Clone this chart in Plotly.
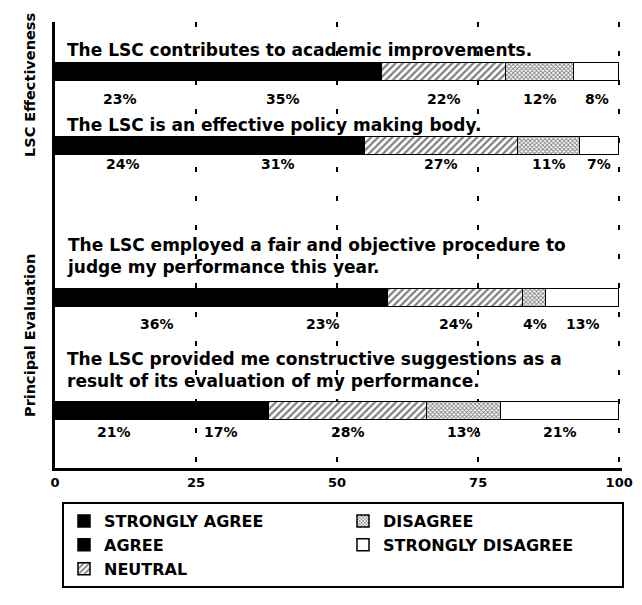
import plotly.graph_objects as go

# ---------------------------
# data
# ---------------------------
questions = [
    "The LSC contributes to academic improvements.",
    "The LSC is an effective policy making body.",
    "The LSC employed a fair and objective procedure to<br>judge my performance this year.",
    "The LSC provided me constructive suggestions as a<br>result of its evaluation of my performance.",
]
groups = ["LSC Effectiveness", "Principal Evaluation"]

strongly_agree = [23, 24, 36, 21]
agree = [35, 31, 23, 17]
neutral = [22, 27, 24, 28]
disagree = [12, 11, 4, 13]
strongly_disagree = [8, 7, 13, 21]

x_ticks = [0, 25, 50, 75, 100]

# layout helpers (y axis measured top-down, in px below the plot top)
row_y = [50, 124, 276, 389]
title_off = [22, 21, 42, 41]
pct_off = [27, 18, 26, 21]
group_y = [63, 314]
bar_w = 18
FONT = "DejaVu Sans"

series = [
    ("STRONGLY AGREE", strongly_agree, dict(color="black"), 1),
    ("AGREE", agree, dict(color="black"), 3),
    ("NEUTRAL", neutral, dict(color="white", pattern=dict(shape="/", fgcolor="black", bgcolor="white", size=5, solidity=0.45)), 5),
    ("DISAGREE", disagree, dict(color="white", pattern=dict(shape="x", fgcolor="black", bgcolor="white", size=3, solidity=0.5)), 2),
    ("STRONGLY DISAGREE", strongly_disagree, dict(color="white"), 4),
]

fig = go.Figure()

for name, vals, mk, rank in series:
    fig.add_trace(go.Bar(
        x=vals,
        y=row_y,
        orientation="h",
        name=name,
        width=bar_w,
        legendrank=rank,
        marker=dict(line=dict(color="black", width=1.5), **mk),
        hoverinfo="x+name",
    ))

annotations = []

# question titles above bars
for q, y, off in zip(questions, row_y, title_off):
    annotations.append(dict(
        x=1.7, y=y - off, xref="x", yref="y",
        text=q, showarrow=False, xanchor="left", yanchor="middle", align="left",
        font=dict(family=FONT, size=17, color="black", weight="bold"),
    ))

# percent labels under each segment
for i, y in enumerate(row_y):
    start = 0
    for _, vals, _, _ in series:
        v = vals[i]
        annotations.append(dict(
            x=start + v / 2, y=y + pct_off[i], xref="x", yref="y",
            text=f"{v}%", showarrow=False, xanchor="center", yanchor="middle",
            font=dict(family=FONT, size=14, color="black", weight="bold"),
        ))
        start += v

# group labels on the left
for g, y in zip(groups, group_y):
    annotations.append(dict(
        x=0, y=y, xref="paper", yref="y", xshift=-35,
        text=g, showarrow=False, textangle=-90,
        font=dict(family=FONT, size=14.5, color="black", weight="bold"),
    ))

fig.update_layout(
    width=625, height=589,
    margin=dict(l=47, r=11, t=14, b=129),
    plot_bgcolor="white",
    paper_bgcolor="white",
    barmode="stack",
    bargap=0,
    annotations=annotations,
    font=dict(family=FONT, color="black"),
    xaxis=dict(
        range=[0, 100.5],
        tickvals=x_ticks,
        ticks="",
        automargin=False,
        showline=True, linecolor="black", linewidth=3,
        showgrid=True, gridcolor="black", gridwidth=2, griddash="5px,24px",
        zeroline=False,
        tickfont=dict(family=FONT, size=13, color="black", weight="bold"),
    ),
    yaxis=dict(
        range=[446, 0],
        automargin=False,
        showticklabels=False, ticks="",
        showgrid=False, zeroline=False,
        showline=True, linecolor="black", linewidth=3,
    ),
    legend=dict(
        orientation="h",
        xref="container", yref="container",
        x=0.0864, xanchor="left",
        y=0.161, yanchor="top",
        entrywidth=234,
        bordercolor="black", borderwidth=2,
        bgcolor="white",
        font=dict(family=FONT, size=16, color="black", weight="bold"),
        traceorder="normal",
    ),
)

fig.write_html("out.html")
